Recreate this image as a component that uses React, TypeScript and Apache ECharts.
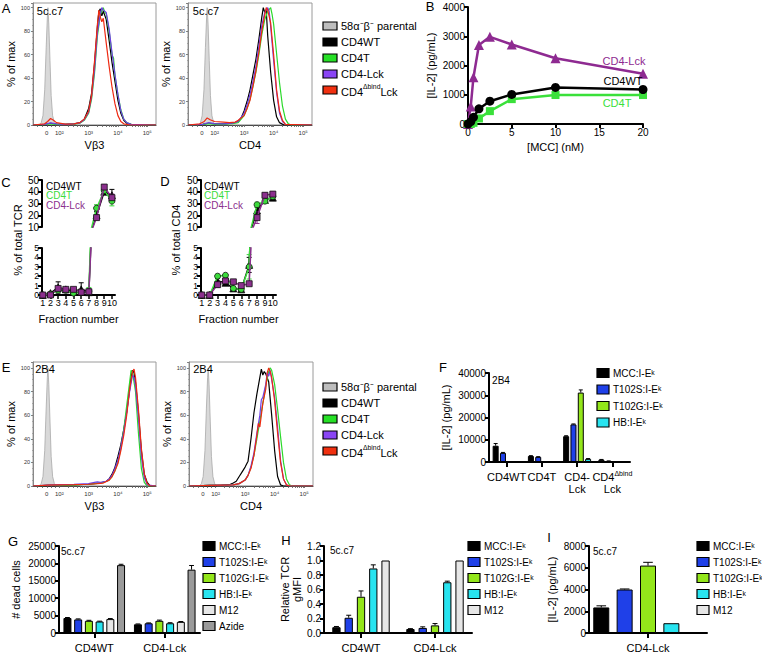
import React, { useEffect, useRef } from "react";
import * as echarts from "echarts";

const FONT = '"Liberation Sans", Arial, Helvetica, sans-serif';

// ---------------- Histogram data (x = transformed log units: 2 -> 10², 3 -> 10³ ...) ----------------
const HIST_LABEL_POS = [1.57, 2, 3, 4, 5];
const HIST_LABELS = ["0", "10²", "10³", "10⁴", "10⁵"];
const HIST_NAMES = ["58α⁻β⁻ parental", "CD4WT", "CD4T", "CD4-Lck", "CD4ΔbindLck"];
const HIST_COLORS = ["#bdbdbd", "#000000", "#26e026", "#8a45f5", "#f03010"];
const HIST_LINE_COLORS = ["#a8a8a8", "#000000", "#2bd92b", "#6f3fe6", "#ee2a12"];

const PAR_VB = [[1.1, 0], [1.3, 0], [1.38, 2], [1.44, 8], [1.5, 30], [1.55, 66], [1.59, 92], [1.61, 100], [1.64, 86], [1.68, 55], [1.72, 25], [1.77, 8], [1.83, 2], [1.9, 0], [5.3, 0]];
const PAR_CD4 = [[1.1, 0], [1.45, 0], [1.52, 2], [1.58, 8], [1.64, 30], [1.69, 66], [1.73, 92], [1.75, 100], [1.78, 86], [1.82, 55], [1.86, 25], [1.91, 8], [1.97, 2], [2.04, 0], [5.3, 0]];

const A1_WT = [[1.1, 0], [1.5, 0.5], [1.7, 1.5], [1.9, 0.8], [2.2, 0.6], [2.5, 1], [2.7, 2], [2.85, 5], [3.0, 14], [3.1, 27], [3.2, 52], [3.3, 84], [3.35, 97], [3.4, 99], [3.45, 93], [3.5, 97], [3.6, 90], [3.7, 72], [3.8, 53], [3.9, 37], [4.0, 21], [4.1, 10], [4.2, 4], [4.3, 1.5], [4.45, 0.5], [5.3, 0]];
const A1_T = [[1.1, 0], [1.5, 0.4], [1.7, 1], [1.9, 0.6], [2.2, 0.5], [2.5, 0.8], [2.7, 1.5], [2.85, 4], [3.0, 10], [3.1, 22], [3.2, 44], [3.3, 76], [3.4, 94], [3.5, 100], [3.55, 96], [3.6, 95], [3.7, 80], [3.8, 60], [3.85, 57], [3.9, 42], [4.0, 26], [4.1, 13], [4.2, 5], [4.3, 2], [4.45, 0.5], [5.3, 0]];
const A1_LCK = [[1.1, 0], [1.5, 0.5], [1.7, 1.8], [1.9, 1], [2.2, 0.6], [2.5, 0.9], [2.7, 1.8], [2.85, 4.5], [3.0, 11], [3.1, 24], [3.2, 47], [3.3, 79], [3.4, 95], [3.45, 100], [3.5, 98], [3.6, 96], [3.7, 82], [3.8, 61], [3.9, 43], [4.0, 26], [4.1, 12], [4.2, 5], [4.3, 2], [4.45, 0.5], [5.3, 0]];
const A1_DB = [[1.1, 0], [1.5, 1], [1.6, 3], [1.7, 5.5], [1.8, 4], [1.9, 2], [2.2, 0.8], [2.5, 1], [2.7, 2], [2.85, 5], [3.0, 12], [3.1, 25], [3.2, 54], [3.3, 86], [3.35, 98], [3.4, 92], [3.45, 88], [3.5, 91], [3.6, 70], [3.7, 50], [3.8, 32], [3.9, 18], [4.0, 8], [4.1, 3], [4.2, 1], [4.4, 0], [5.3, 0]];

const A2_WT = [[1.1, 0], [1.6, 0.5], [1.8, 1.5], [2.0, 1], [2.3, 1], [2.6, 1.5], [2.8, 3], [2.9, 6], [3.0, 12], [3.1, 20], [3.2, 30], [3.3, 43], [3.4, 56], [3.5, 73], [3.6, 92], [3.65, 100], [3.7, 96], [3.75, 98], [3.8, 76], [3.9, 45], [4.0, 21], [4.1, 7], [4.2, 2], [4.35, 0], [5.3, 0]];
const A2_T = [[1.1, 0], [1.6, 0.5], [1.8, 1.2], [2.0, 0.8], [2.3, 0.8], [2.6, 1.2], [2.8, 2], [3.0, 8], [3.1, 14], [3.2, 22], [3.3, 33], [3.4, 45], [3.5, 60], [3.6, 77], [3.7, 90], [3.8, 97], [3.9, 100], [3.95, 94], [4.0, 86], [4.1, 61], [4.2, 36], [4.3, 16], [4.4, 5], [4.5, 1], [4.6, 0], [5.3, 0]];
const A2_LCK = [[1.1, 0], [1.6, 0.6], [1.8, 2], [2.0, 1.2], [2.3, 1], [2.6, 1.5], [2.8, 3], [3.0, 10], [3.1, 17], [3.2, 26], [3.3, 37], [3.4, 50], [3.5, 67], [3.6, 85], [3.7, 96], [3.8, 100], [3.85, 97], [3.9, 84], [4.0, 55], [4.1, 28], [4.2, 10], [4.3, 3], [4.4, 0.5], [5.3, 0]];
const A2_DB = [[1.1, 0], [1.5, 1], [1.65, 3], [1.75, 6], [1.85, 4.5], [2.0, 3], [2.3, 2.5], [2.5, 2], [2.7, 2.5], [2.8, 4], [3.0, 8], [3.1, 14], [3.2, 21], [3.3, 33], [3.4, 46], [3.5, 62], [3.6, 80], [3.7, 94], [3.75, 100], [3.8, 98], [3.9, 87], [4.0, 60], [4.1, 30], [4.2, 12], [4.3, 4], [4.4, 0.5], [5.3, 0]];

const E1_WT = [[1.1, 0], [1.6, 0.5], [2.0, 0.8], [2.5, 1], [3.0, 1.5], [3.2, 2], [3.4, 2.5], [3.6, 4], [3.7, 6], [3.8, 10], [3.9, 16], [4.0, 25], [4.1, 35], [4.2, 48], [4.3, 63], [4.4, 82], [4.45, 92], [4.5, 98], [4.55, 96], [4.6, 88], [4.7, 62], [4.8, 30], [4.9, 10], [5.0, 3], [5.1, 0], [5.3, 0]];
const E1_T = [[1.1, 0], [1.6, 0.5], [2.0, 0.8], [2.5, 1], [3.0, 1.5], [3.3, 2.5], [3.5, 3], [3.7, 5], [3.8, 8], [3.9, 13], [4.0, 20], [4.1, 32], [4.2, 48], [4.3, 68], [4.4, 88], [4.45, 98], [4.5, 96], [4.6, 80], [4.7, 45], [4.8, 15], [4.9, 3], [5.0, 0], [5.3, 0]];
const E1_LCK = [[1.1, 0], [1.6, 0.8], [2.0, 1.2], [2.5, 1.5], [3.0, 2], [3.2, 3], [3.3, 3.5], [3.4, 3], [3.6, 4], [3.7, 6], [3.8, 9], [3.9, 15], [4.0, 22], [4.1, 33], [4.2, 46], [4.3, 62], [4.4, 80], [4.5, 94], [4.55, 92], [4.6, 85], [4.7, 58], [4.8, 25], [4.9, 7], [5.0, 1], [5.3, 0]];
const E1_DB = [[1.1, 0], [1.6, 0.8], [2.0, 1], [2.5, 1.2], [3.0, 1.5], [3.3, 2], [3.5, 2.5], [3.7, 5], [3.8, 8], [3.9, 13], [4.0, 19], [4.1, 30], [4.2, 43], [4.3, 60], [4.4, 82], [4.5, 97], [4.55, 99], [4.6, 92], [4.7, 65], [4.8, 32], [4.9, 10], [5.0, 2], [5.1, 0], [5.3, 0]];

const E2_WT = [[1.1, 0], [1.8, 0.5], [2.2, 0.8], [2.5, 1.5], [2.6, 2.5], [2.7, 4], [2.8, 8], [2.9, 12], [3.0, 16], [3.1, 21], [3.2, 40], [3.3, 62], [3.4, 78], [3.5, 92], [3.55, 99], [3.6, 94], [3.65, 97], [3.7, 95], [3.8, 88], [3.9, 60], [4.0, 30], [4.1, 8], [4.2, 1], [4.3, 0], [5.3, 0]];
const E2_T = [[1.1, 0], [1.8, 0.5], [2.2, 0.8], [2.6, 1], [2.8, 2], [3.0, 5], [3.1, 9], [3.2, 16], [3.3, 26], [3.4, 40], [3.5, 55], [3.6, 70], [3.7, 85], [3.8, 97], [3.85, 100], [3.9, 98], [4.0, 86], [4.1, 65], [4.2, 42], [4.3, 20], [4.4, 6], [4.5, 1], [4.6, 0], [5.3, 0]];
const E2_LCK = [[1.1, 0], [1.8, 0.5], [2.2, 0.8], [2.6, 1], [2.8, 2], [3.0, 5], [3.1, 9], [3.2, 17], [3.3, 28], [3.4, 45], [3.5, 60], [3.55, 73], [3.6, 75], [3.7, 86], [3.75, 96], [3.8, 93], [3.85, 98], [3.9, 90], [4.0, 75], [4.1, 50], [4.2, 22], [4.3, 6], [4.4, 1], [4.5, 0], [5.3, 0]];
const E2_DB = [[1.1, 0], [1.8, 0.5], [2.2, 0.8], [2.6, 1], [2.8, 2], [3.0, 5], [3.1, 9], [3.2, 15], [3.3, 26], [3.4, 43], [3.45, 53], [3.5, 50], [3.6, 70], [3.7, 82], [3.75, 96], [3.8, 100], [3.85, 97], [3.9, 92], [4.0, 72], [4.1, 45], [4.2, 20], [4.3, 6], [4.4, 1], [4.5, 0], [5.3, 0]];

// ---------------- Panel B ----------------
const B_MCC = [0, 0.3125, 0.625, 1.25, 2.5, 5, 10, 20];
const B_WT = [0, 80, 230, 520, 780, 1010, 1250, 1180];
const B_T = [0, 0, 40, 190, 440, 850, 990, 990];
const B_LCK = [0, 600, 1600, 2700, 2980, 2720, 2250, 1720];

// ---------------- Panels C / D ----------------
const FRACTIONS = [1, 2, 3, 4, 5, 6, 7, 8, 9, 10];
const LOW_TICKS = [0, 1, 2, 3, 4, 5];
const C_WT = [0, 0.2, 0.8, 0.6, 0.4, 0.6, 0.3, 20, 40, 37];
const C_WT_ERR = [0, 0.1, 0.6, 0.15, 0.2, 0.7, 0.3, 3, 2, 5];
const C_T = [0, 0.1, 0.5, 0.5, 0.2, 0.3, 0.4, 26, 41, 32];
const C_T_ERR = [0, 0.05, 0.2, 0.1, 0.1, 0.2, 0.4, 3, 2, 4];
const C_LCK = [0, 0, 0.7, 0.6, 0.6, 0.3, 0.35, 18, 44, 35];
const C_LCK_ERR = [0, 0, 0.2, 0.1, 0.1, 0.2, 0.2, 2, 2, 3];
const D_WT = [0, 0, 1.5, 1.3, 0.7, 0.6, 3.2, 24, 33, 35];
const D_WT_ERR = [0, 0, 0.3, 0.2, 0.1, 0.1, 0.8, 3, 2, 2];
const D_T = [0, 0, 2.0, 2.1, 0.7, 0.6, 3.0, 29, 32, 36];
const D_T_ERR = [0, 0, 0.2, 0.1, 0.1, 0.1, 1.3, 2, 2, 2];
const D_LCK = [0, 0, 1.1, 1.5, 1.4, 1.0, 1.2, 18, 37, 38];
const D_LCK_ERR = [0, 0, 0.3, 0.2, 0.2, 0.1, 0.1, 5, 2, 2];
const CD_NAMES = ["CD4WT", "CD4T", "CD4-Lck"];
const CD_COLORS = ["#000000", "#3bdc3b", "#8b2f8d"];
const CD_SYMBOLS = ["triangle", "circle", "rect"];

// ---------------- Bar panels ----------------
const PEPTIDES = ["MCC:I-Eᵏ", "T102S:I-Eᵏ", "T102G:I-Eᵏ", "HB:I-Eᵏ", "M12", "Azide"];
const PEP_COLORS = ["#000000", "#1f40e8", "#93e61a", "#28e4f0", "#e6e6e6", "#9a9a9a"];

const F_CATS = ["CD4WT", "CD4T", "CD4-Lck", "CD4ΔbindLck"];
const F_MCC = [7300, 2700, 11600, 1050];
const F_MCC_ERR = [1000, 150, 200, 100];
const F_T102S = [4100, 2300, 16900, 450];
const F_T102S_ERR = [200, 100, 200, 50];
const F_T102G = [400, 0, 31200, 0];
const F_T102G_ERR = [0, 0, 1200, 0];
const F_HB = [100, 0, 1400, 50];
const F_HB_ERR = [0, 0, 150, 0];

const G_CATS = ["CD4WT", "CD4-Lck"];
const G_MCC = [4300, 2500];
const G_T102S = [3900, 2800];
const G_T102G = [3500, 3500];
const G_HB = [3300, 2800];
const G_M12 = [4000, 3200];
const G_AZIDE = [19500, 18200];
const G_ERR = [[150, 100], [150, 100], [150, 200], [100, 150], [150, 100], [250, 1200]];

const H_CATS = ["CD4WT", "CD4-Lck"];
const H_MCC = [0.08, 0.055];
const H_T102S = [0.21, 0.07];
const H_T102G = [0.5, 0.105];
const H_HB = [0.89, 0.7];
const H_M12 = [1.0, 1.0];
const H_ERR = [[0.01, 0.005], [0.035, 0.015], [0.08, 0.025], [0.05, 0.015], [0, 0]];

const I_CATS = ["CD4-Lck"];
const I_MCC = [2350];
const I_T102S = [4000];
const I_T102G = [6200];
const I_HB = [900];
const I_M12 = [0];
const I_ERR = [[150], [50], [300], [0], [0]];

// ---------------- helpers ----------------
const HIST_TICKS: number[] = [1.25, 1.4, 1.57, 1.72, 1.85];
for (let d = 2; d <= 5; d++) {
  for (let m = 1; m <= 9; m++) {
    const v = d + Math.log10(m);
    if (v <= 5.3) HIST_TICKS.push(v);
  }
}

const txt = (text: string, x: number, y: number, size: number, color = "#000", align = "left", extra: any = {}) => ({
  type: "text",
  x,
  y,
  silent: true,
  z: 50,
  style: {
    text,
    fill: color,
    fontSize: size,
    fontFamily: FONT,
    align,
    textAlign: align,
    verticalAlign: "middle",
    textVerticalAlign: "middle",
    ...extra,
  },
});

const richLegendText = (name: string, x: number, y: number, size: number) => {
  if (name === "CD4ΔbindLck") {
    return txt("{n|CD4}{s|Δbind}{n|Lck}", x, y, size, "#000", "left", {
      rich: {
        n: { fontSize: size, fontFamily: FONT, fill: "#000", color: "#000", verticalAlign: "bottom", lineHeight: size + 3 },
        s: { fontSize: size * 0.62, fontFamily: FONT, fill: "#000", color: "#000", verticalAlign: "top", lineHeight: size + 3 },
      },
    });
  }
  return txt(name, x, y, size);
};

const legendBlock = (x: number, y0: number, dy: number, names: string[], colors: string[], sw: number, sh: number, size: number) => {
  const els: any[] = [];
  names.forEach((n, i) => {
    const cy = y0 + i * dy;
    els.push({
      type: "rect",
      silent: true,
      z: 50,
      shape: { x, y: cy - sh / 2, width: sw, height: sh },
      style: { fill: colors[i], stroke: "#000", lineWidth: 1.2 },
    });
    els.push(richLegendText(n, x + sw + 4, cy, size));
  });
  return els;
};

const plain = (v: number) => String(v);

const histX = (gi: number, name: string) => ({
  type: "value",
  gridIndex: gi,
  min: 1.1,
  max: 5.3,
  name,
  nameLocation: "middle",
  nameGap: 14,
  nameTextStyle: { fontSize: 11, fontFamily: FONT, color: "#000" },
  axisLine: { show: true, onZero: false, lineStyle: { color: "#333", width: 1 } },
  axisTick: { show: true, customValues: HIST_TICKS, length: 2, lineStyle: { color: "#555", width: 0.8 } },
  axisLabel: {
    customValues: HIST_LABEL_POS,
    formatter: (v: number) => {
      const i = HIST_LABEL_POS.indexOf(v);
      return i >= 0 ? HIST_LABELS[i] : "";
    },
    fontSize: 6,
    fontFamily: FONT,
    color: "#333",
    margin: 5,
  },
  splitLine: { show: false },
});

const histY = (gi: number, max: number) => ({
  type: "value",
  gridIndex: gi,
  min: 0,
  max,
  interval: 20,
  name: "% of max",
  nameLocation: "middle",
  nameGap: 11,
  nameTextStyle: { fontSize: 11, fontFamily: FONT, color: "#000" },
  axisLine: { show: true, onZero: false, lineStyle: { color: "#888", width: 1 } },
  axisTick: { show: true, length: 2, lineStyle: { color: "#666", width: 0.8 } },
  minorTick: { show: true, splitNumber: 4, length: 1, lineStyle: { color: "#888", width: 0.6 } },
  axisLabel: { customValues: [0, 20, 40, 60, 80, 100], fontSize: 5.5, fontFamily: FONT, color: "#333", margin: 3 },
  splitLine: { show: false },
  minorSplitLine: { show: false },
});

const prismLine = { show: true, onZero: false, lineStyle: { color: "#000", width: 2 } };
const prismTick = { show: true, length: 4, lineStyle: { color: "#000", width: 2 } };

const valAxis = (gi: number, min: number, max: number, interval: number, name: string, nameGap: number, extra: any = {}) => ({
  type: "value",
  gridIndex: gi,
  min,
  max,
  interval,
  name,
  nameLocation: "middle",
  nameGap,
  nameTextStyle: { fontSize: 11, fontFamily: FONT, color: "#000", lineHeight: 12 },
  axisLine: prismLine,
  axisTick: prismTick,
  axisLabel: { fontSize: 10, fontFamily: FONT, color: "#000", margin: 3, formatter: plain },
  splitLine: { show: false },
  ...extra,
});

const catLabelRich = {
  n: { fontSize: 11, fontFamily: FONT, color: "#000", verticalAlign: "bottom", lineHeight: 12 },
  s: { fontSize: 7, fontFamily: FONT, color: "#000", verticalAlign: "top", lineHeight: 12 },
};

const catAxis = (gi: number, cats: string[]) => ({
  type: "category",
  gridIndex: gi,
  data: cats,
  axisLine: prismLine,
  axisTick: { show: true, alignWithLabel: true, length: 5, lineStyle: { color: "#000", width: 2 } },
  axisLabel: {
    interval: 0,
    margin: 8,
    formatter: (v: string) => {
      if (v === "CD4ΔbindLck") return "{n|CD4}{s|Δbind}\n{n|Lck}";
      if (v === "CD4-Lck" && cats.length === 4) return "{n|CD4-}\n{n|Lck}";
      return "{n|" + v + "}";
    },
    rich: catLabelRich,
  },
  splitLine: { show: false },
});

const errorBars = (gi: number, data: number[][], offset: number, capHalf: number, both: boolean, color: string) => ({
  type: "custom",
  xAxisIndex: gi,
  yAxisIndex: gi,
  clip: true,
  silent: true,
  z: 4,
  data,
  renderItem: (params: any, api: any) => {
    const x = api.value(0);
    const y = api.value(1);
    const e = api.value(2);
    if (!e) return { type: "group", children: [] };
    const c = api.coord([x, y]);
    const hi = api.coord([x, y + e]);
    const lo = both ? api.coord([x, y - e]) : c;
    const px = c[0] + offset;
    const st = { stroke: color, lineWidth: 1 };
    const children: any[] = [
      { type: "line", shape: { x1: px, y1: lo[1], x2: px, y2: hi[1] }, style: st },
      { type: "line", shape: { x1: px - capHalf, y1: hi[1], x2: px + capHalf, y2: hi[1] }, style: st },
    ];
    if (both) children.push({ type: "line", shape: { x1: px - capHalf, y1: lo[1], x2: px + capHalf, y2: lo[1] }, style: st });
    return { type: "group", children };
  },
});

const barGroup = (gi: number, values: number[][], errs: number[][], names: string[], colors: string[], bw: number, gap: number) => {
  const n = values.length;
  const period = bw * (1 + gap);
  const out: any[] = [];
  values.forEach((vals, i) => {
    out.push({
      type: "bar",
      name: names[i],
      xAxisIndex: gi,
      yAxisIndex: gi,
      data: vals,
      barWidth: bw,
      barGap: gap * 100 + "%",
      silent: true,
      itemStyle: { color: colors[i], borderColor: "#000", borderWidth: 1 },
    });
  });
  values.forEach((vals, i) => {
    const off = (i - (n - 1) / 2) * period;
    out.push(errorBars(gi, vals.map((v, k) => [k, v, errs[i][k]]), off, Math.max(2, bw * 0.3), false, "#000"));
  });
  return out;
};

const histSeries = (gi: number, curves: number[][][]) =>
  curves.map((c, i) => ({
    type: "line",
    xAxisIndex: gi,
    yAxisIndex: gi,
    name: HIST_NAMES[i],
    data: c,
    symbol: "none",
    silent: true,
    clip: true,
    lineStyle: { color: HIST_LINE_COLORS[i], width: i === 0 ? 0.8 : 1.2 },
    areaStyle: i === 0 ? { color: "#d9d9d9", opacity: 1 } : undefined,
    z: 2 + i,
  }));

const fracSeries = (gU: number, gL: number, vals: number[], errs: number[], k: number) => {
  const data = FRACTIONS.map((f, i) => [f, vals[i]]);
  const edata = FRACTIONS.map((f, i) => [f, vals[i], errs[i]]);
  const line = (g: number) => ({
    type: "line",
    name: CD_NAMES[k],
    xAxisIndex: g,
    yAxisIndex: g,
    data,
    clip: true,
    silent: true,
    symbol: CD_SYMBOLS[k],
    symbolSize: k === 0 ? 7 : 6,
    lineStyle: { color: CD_COLORS[k], width: 1.5 },
    itemStyle: { color: CD_COLORS[k], borderColor: "#111", borderWidth: 0.8 },
    z: 3 + k,
  });
  return [line(gU), line(gL), errorBars(gU, edata, 0, 2.5, true, CD_COLORS[k]), errorBars(gL, edata, 0, 2.5, true, CD_COLORS[k])];
};

function buildOption() {
  const grids = [
    { left: 33, top: 3, width: 123, height: 122, show: true, borderColor: "#9a9a9a", borderWidth: 1 }, // 0 A1
    { left: 188, top: 3, width: 124, height: 122, show: true, borderColor: "#9a9a9a", borderWidth: 1 }, // 1 A2
    { left: 468, top: 7, width: 175, height: 117 }, // 2 B
    { left: 42, top: 180, width: 73, height: 47 }, // 3 C upper
    { left: 42, top: 248, width: 73, height: 47 }, // 4 C lower
    { left: 201, top: 180, width: 75, height: 47 }, // 5 D upper
    { left: 201, top: 248, width: 75, height: 47 }, // 6 D lower
    { left: 33, top: 362, width: 123, height: 124, show: true, borderColor: "#9a9a9a", borderWidth: 1 }, // 7 E1
    { left: 189, top: 362, width: 124, height: 124, show: true, borderColor: "#9a9a9a", borderWidth: 1 }, // 8 E2
    { left: 489, top: 373, width: 141, height: 89 }, // 9 F
    { left: 59, top: 546, width: 141, height: 87 }, // 10 G
    { left: 324, top: 546, width: 148, height: 87 }, // 11 H
    { left: 589, top: 546, width: 118, height: 87 }, // 12 I
  ];

  const fracX = (gi: number, show: boolean) =>
    show
      ? {
          type: "value",
          gridIndex: gi,
          min: 0.9,
          max: 10.4,
          name: "Fraction number",
          nameLocation: "middle",
          nameGap: 18,
          nameTextStyle: { fontSize: 11, fontFamily: FONT, color: "#000" },
          axisLine: prismLine,
          axisTick: { show: true, customValues: FRACTIONS, length: 4, lineStyle: { color: "#000", width: 1.5 } },
          axisLabel: {
            customValues: FRACTIONS,
            fontSize: 9,
            fontFamily: FONT,
            color: "#000",
            margin: 3,
          },
          splitLine: { show: false },
        }
      : { type: "value", gridIndex: gi, min: 0.9, max: 10.4, show: false, splitLine: { show: false } };

  const lowY = (gi: number) =>
    valAxis(gi, 0, 5, 1, "", 0, {
      axisLabel: {
        customValues: LOW_TICKS,
        fontSize: 8.5,
        lineHeight: 8,
        fontFamily: FONT,
        color: "#000",
        margin: 3,
      },
    });

  const xAxis: any[] = [
    histX(0, "Vβ3"),
    histX(1, "CD4"),
    valAxis(2, 0, 20, 5, "[MCC] (nM)", 17),
    fracX(3, false),
    fracX(4, true),
    fracX(5, false),
    fracX(6, true),
    histX(7, "Vβ3"),
    histX(8, "CD4"),
    catAxis(9, F_CATS),
    catAxis(10, G_CATS),
    catAxis(11, H_CATS),
    catAxis(12, I_CATS),
  ];
  const yAxis: any[] = [
    histY(0, 104),
    histY(1, 104),
    valAxis(2, 0, 4000, 1000, "[IL-2] (pg/mL)", 31),
    valAxis(3, 10, 50, 10, "", 0),
    lowY(4),
    valAxis(5, 10, 50, 10, "", 0),
    lowY(6),
    histY(7, 105),
    histY(8, 105),
    valAxis(9, 0, 40000, 10000, "[IL-2] (pg/mL)", 37),
    valAxis(10, 0, 25000, 5000, "# dead cells", 37),
    valAxis(11, 0, 1.2, 0.2, "Relative TCR\ngMFI", 18, {
      axisLabel: { fontSize: 10, fontFamily: FONT, color: "#000", margin: 3, formatter: (v: number) => v.toFixed(1) },
    }),
    valAxis(12, 0, 8000, 2000, "[IL-2] (pg/mL)", 31),
  ];

  const series: any[] = [
    ...histSeries(0, [PAR_VB, A1_WT, A1_T, A1_LCK, A1_DB]),
    ...histSeries(1, [PAR_CD4, A2_WT, A2_T, A2_LCK, A2_DB]),
    ...histSeries(7, [PAR_VB, E1_WT, E1_T, E1_LCK, E1_DB]),
    ...histSeries(8, [PAR_CD4, E2_WT, E2_T, E2_LCK, E2_DB]),
  ];

  // Panel B
  const bSets = [
    { name: "CD4-Lck", vals: B_LCK, color: "#8e2a91", symbol: "triangle", size: 10 },
    { name: "CD4T", vals: B_T, color: "#3ae03a", symbol: "rect", size: 8 },
    { name: "CD4WT", vals: B_WT, color: "#000000", symbol: "circle", size: 9 },
  ];
  bSets.forEach((s) =>
    series.push({
      type: "line",
      name: s.name,
      xAxisIndex: 2,
      yAxisIndex: 2,
      data: B_MCC.map((x, i) => [x, s.vals[i]]),
      symbol: s.symbol,
      symbolSize: s.size,
      clip: false,
      silent: true,
      lineStyle: { color: s.color, width: 2.5 },
      itemStyle: { color: s.color },
    })
  );

  // Panels C / D
  const cVals = [C_WT, C_T, C_LCK];
  const cErrs = [C_WT_ERR, C_T_ERR, C_LCK_ERR];
  const dVals = [D_WT, D_T, D_LCK];
  const dErrs = [D_WT_ERR, D_T_ERR, D_LCK_ERR];
  [2, 1, 0].forEach((k) => {
    series.push(...fracSeries(3, 4, cVals[k], cErrs[k], k));
    series.push(...fracSeries(5, 6, dVals[k], dErrs[k], k));
  });

  // Bars
  series.push(
    ...barGroup(9, [F_MCC, F_T102S, F_T102G, F_HB], [F_MCC_ERR, F_T102S_ERR, F_T102G_ERR, F_HB_ERR], PEPTIDES.slice(0, 4), PEP_COLORS.slice(0, 4), 6, 0.22)
  );
  series.push(...barGroup(10, [G_MCC, G_T102S, G_T102G, G_HB, G_M12, G_AZIDE], G_ERR, PEPTIDES, PEP_COLORS, 8, 0.34));
  series.push(...barGroup(11, [H_MCC, H_T102S, H_T102G, H_HB, H_M12], H_ERR, PEPTIDES.slice(0, 5), PEP_COLORS.slice(0, 5), 8.3, 0.48));
  series.push(...barGroup(12, [I_MCC, I_T102S, I_T102G, I_HB, I_M12], I_ERR, PEPTIDES.slice(0, 5), PEP_COLORS.slice(0, 5), 16, 0.46));

  // Graphic texts
  const graphic: any[] = [];
  const letters: [string, number, number][] = [
    ["A", 6, 8],
    ["B", 430, 6],
    ["C", 6, 182],
    ["D", 165, 181],
    ["E", 6, 367],
    ["F", 443, 367],
    ["G", 13, 541],
    ["H", 286, 540],
    ["I", 549, 537],
  ];
  letters.forEach(([t, x, y]) => graphic.push(txt(t, x, y, 13, "#000", "center")));
  graphic.push(txt("5c.c7", 50, 11, 11, "#000", "center"));
  graphic.push(txt("5c.c7", 206, 11, 11, "#000", "center"));
  graphic.push(txt("2B4", 45, 369, 11, "#000", "center"));
  graphic.push(txt("2B4", 203, 369, 11, "#000", "center"));
  graphic.push(txt("2B4", 501, 380, 10, "#000", "center"));
  graphic.push(txt("5c.c7", 73, 551, 10, "#000", "center"));
  graphic.push(txt("5c.c7", 342, 550, 10, "#000", "center"));
  graphic.push(txt("5c.c7", 605, 551, 10, "#000", "center"));

  // B line labels
  graphic.push(txt("CD4-Lck", 624, 61, 11, "#8e2a91", "center"));
  graphic.push(txt("CD4WT", 623, 81, 11, "#000", "center"));
  graphic.push(txt("CD4T", 617, 103, 11, "#3ae03a", "center"));

  // C / D legends and y titles
  CD_NAMES.forEach((n, i) => {
    graphic.push(txt(n, 46, 186 + i * 9.7, 10, CD_COLORS[i]));
    graphic.push(txt(n, 204, 186 + i * 9.7, 10, CD_COLORS[i]));
  });
  graphic.push({ ...txt("% of total TCR", 18, 240, 11, "#000", "center"), rotation: Math.PI / 2 });
  graphic.push({ ...txt("% of total CD4", 176, 240, 11, "#000", "center"), rotation: Math.PI / 2 });

  // Legends
  graphic.push(...legendBlock(323, 26, 16, HIST_NAMES, HIST_COLORS, 14, 8, 11));
  graphic.push(...legendBlock(323, 387, 16, HIST_NAMES, HIST_COLORS, 14, 8, 11));
  graphic.push(...legendBlock(597, 373, 16.5, PEPTIDES.slice(0, 4), PEP_COLORS.slice(0, 4), 12, 9, 10));
  graphic.push(...legendBlock(203, 546, 16, PEPTIDES, PEP_COLORS, 12, 9, 10));
  graphic.push(...legendBlock(468, 546, 16, PEPTIDES.slice(0, 5), PEP_COLORS.slice(0, 5), 12, 9, 10));
  graphic.push(...legendBlock(697, 546, 16, PEPTIDES.slice(0, 5), PEP_COLORS.slice(0, 5), 12, 9, 10));

  return {
    animation: false,
    backgroundColor: "#ffffff",
    textStyle: { fontFamily: FONT },
    grid: grids,
    xAxis,
    yAxis,
    series,
    graphic: { elements: graphic },
  };
}

export default function App() {
  const ref = useRef<HTMLDivElement>(null);
  useEffect(() => {
    if (!ref.current) return;
    const chart = echarts.init(ref.current, null, { renderer: "svg" });
    chart.setOption(buildOption() as any);
    return () => chart.dispose();
  }, []);
  return (
    <div
      ref={ref}
      style={{ position: "fixed", left: 0, top: 0, width: 762, height: 653, background: "#fff" }}
    />
  );
}
